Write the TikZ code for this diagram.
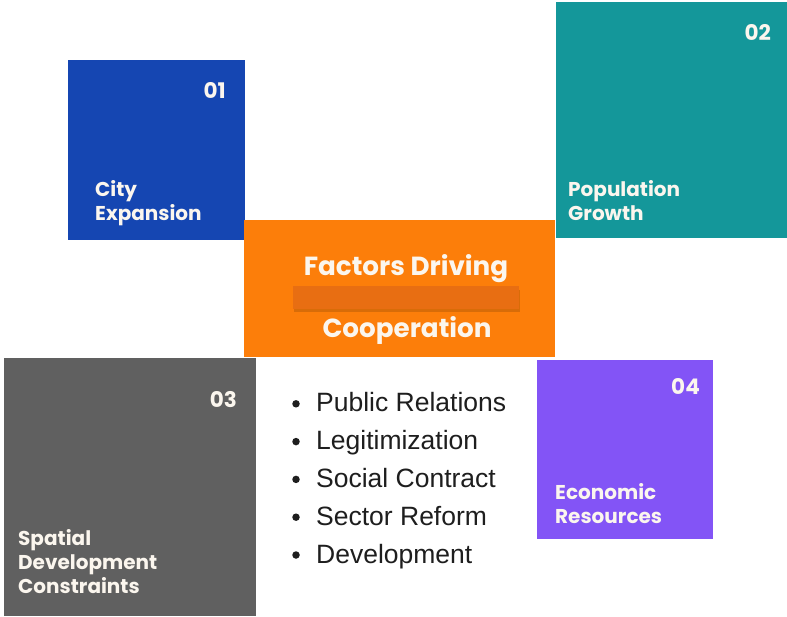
\documentclass[tikz,border=0pt]{standalone}
\usepackage{fontspec}
\setmainfont{Liberation Sans}
\newfontfamily\poppins{Poppins}
\usetikzlibrary{calc}

\definecolor{cblue}{HTML}{1546B2}
\definecolor{cteal}{HTML}{14979A}
\definecolor{corange}{HTML}{FC7E0A}
\definecolor{cbar}{HTML}{E86E12}
\definecolor{cgray}{HTML}{606060}
\definecolor{cpurple}{HTML}{8354F6}
\definecolor{ctext}{HTML}{FBF6EE}
\definecolor{clist}{HTML}{1E1E1E}

\tikzset{
  tile/.style={draw=none, inner sep=0pt, anchor=north west},
  tilenum/.style={text=ctext, font=\poppins\bfseries\fontsize{21.5}{24}\selectfont, inner sep=0pt, anchor=base east},
  tilelabel/.style={text=ctext, font=\poppins\bfseries\fontsize{20}{23.8}\selectfont, inner sep=0pt, align=left, anchor=base west},
  title/.style={text=ctext, font=\poppins\bfseries\fontsize{26.2}{30}\selectfont, inner sep=0pt, anchor=base},
  item/.style={text=clist, font=\fontsize{26.5}{30}\selectfont, inner sep=0pt, anchor=base west},
  dot/.style={circle, fill=clist, inner sep=0pt, minimum size=7.5pt},
}

\begin{document}
\begin{tikzpicture}[x=1pt, y=-1pt]
  \useasboundingbox[fill=white] (0,0) rectangle (787,616);

  % coloured tiles
  \node[tile, fill=cblue,   minimum width=177, minimum height=180] (t1) at (68,60) {};
  \node[tile, fill=cteal,   minimum width=231, minimum height=236] (t2) at (556,2) {};
  \node[tile, fill=cgray,   minimum width=252, minimum height=258] (t3) at (4,358) {};
  \node[tile, fill=cpurple, minimum width=176, minimum height=179] (t4) at (537,360) {};
  \node[tile, fill=corange, minimum width=311, minimum height=137] (tc) at (244,220) {};

  % darker band across the centre tile, with a soft shadow
  \fill[black, opacity=0.14] (294,290) rectangle (520,312);
  \node[tile, fill=cbar, minimum width=226, minimum height=23] (bar) at (293,286) {};

  % tile numbers
  \node[tilenum] (n1) at (226,98) {01};
  \node[tilenum] (n2) at (771,40) {02};
  \node[tilenum] (n3) at (237,407) {03};
  \node[tilenum] (n4) at (700,394) {04};

  % tile captions (anchored on the baseline of the last line)
  \node[tilelabel] (l1) at (95,220) {City\\Expansion};
  \node[tilelabel] (l2) at (568,220) {Population\\Growth};
  \node[tilelabel] (l3) at (18,593) {Spatial\\Development\\Constraints};
  \node[tilelabel] (l4) at (555,523) {Economic\\Resources};

  % centre title
  \node[title] (c1) at (406,275) {Factors Driving};
  \node[title] (c2) at (407,337) {Cooperation};

  % bullet list
  \foreach \txt [count=\i] in {Public Relations, Legitimization, Social Contract, Sector Reform, Development} {
    \node[item] (it\i) at (316, 374+37.8*\i) {\txt};
    \node[dot] (d\i) at (296, 366+37.8*\i) {};
  }
\end{tikzpicture}
\end{document}
